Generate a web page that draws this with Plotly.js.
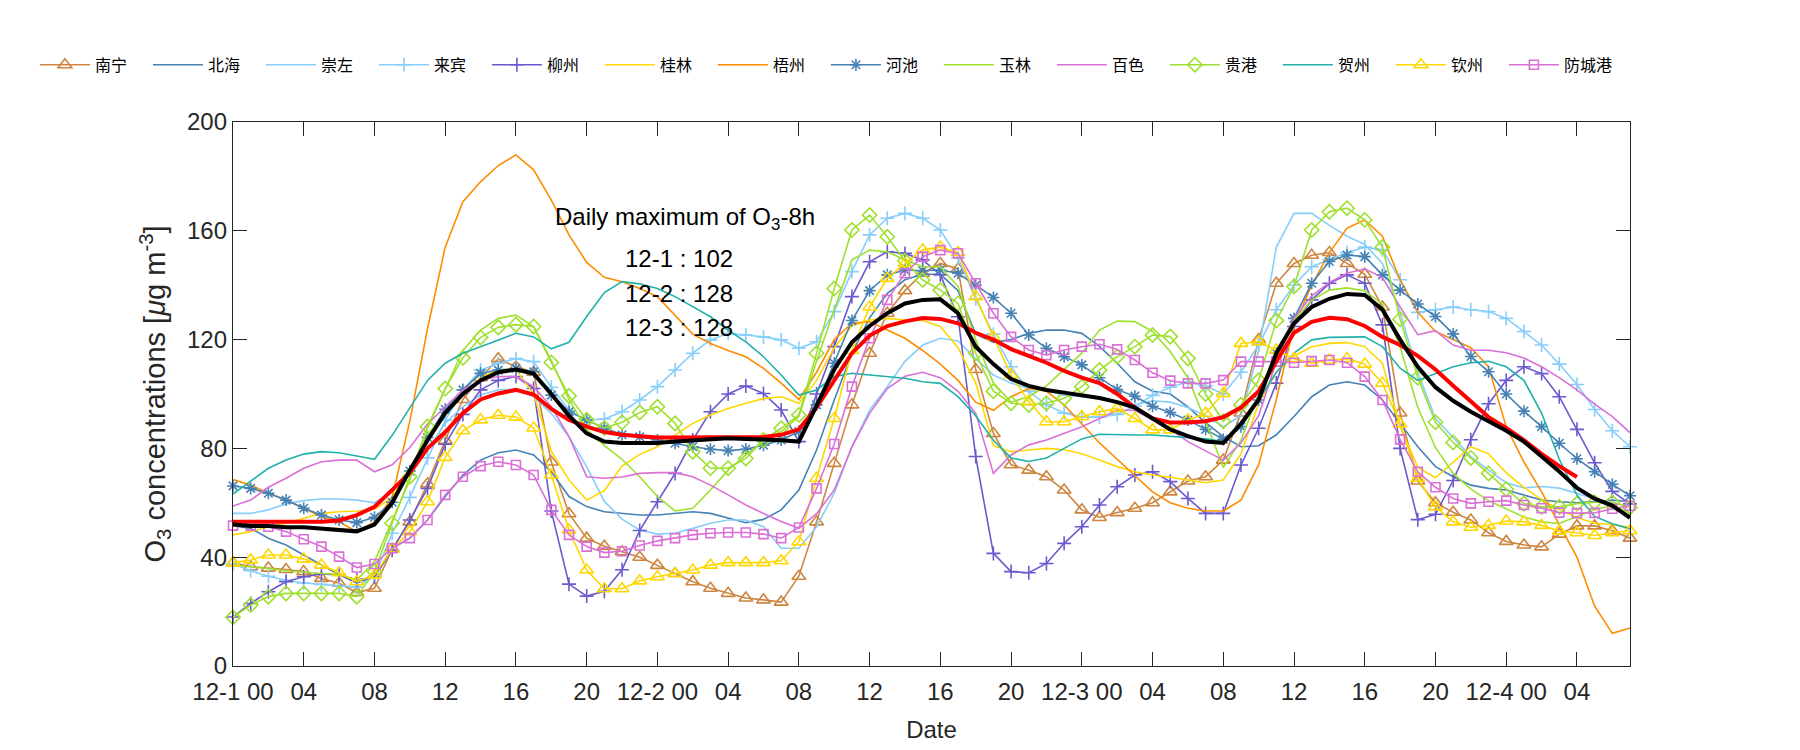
<!DOCTYPE html>
<html><head><meta charset="utf-8">
<script src="https://cdn.plot.ly/plotly-3.0.1.min.js"></script>
<style>html,body{margin:0;padding:0;background:#fff}#chart{width:1800px;height:750px}</style>
</head><body><div id="chart"></div>
<script>
// hour index since 12-1 00:00
const hours = [0,1,2,3,4,5,6,7,8,9,10,11,12,13,14,15,16,17,18,19,20,21,22,23,24,25,26,27,28,29,30,31,32,33,34,35,36,37,38,39,40,41,42,43,44,45,46,47,48,49,50,51,52,53,54,55,56,57,58,59,60,61,62,63,64,65,66,67,68,69,70,71,72,73,74,75,76,77,78,79];
const tickVals = [0,4,8,12,16,20,24,28,32,36,40,44,48,52,56,60,64,68,72,76];
const tickText = ['12-1 00','04','08','12','16','20','12-2 00','04','08','12','16','20','12-3 00','04','08','12','16','20','12-4 00','04'];
const yTicks = [0,40,80,120,160,200];

const cityNames = ['南宁','北海','崇左','来宾','柳州','桂林','梧州','河池','玉林','百色','贵港','贺州','钦州','防城港'];

const nanning = [38,36.5,36,35.5,34.7,32.2,30.4,27,28.6,43,53,67,83,98,106,113,110,108,75,56,47,44,42,40,37,34,31,28.6,26.7,25,24.3,23.5,33,53,74.5,96,115,129.7,138,144.4,148,146,109,85.5,74,72,69.6,64.7,57.4,54.6,56.4,58,60,64,68,69.6,75.7,93,120,140.7,148,151,152,148,144,132,93,68,60,56.5,53.7,49,45.8,44.5,43.8,48.5,51.5,51.5,49.7,47];
const beihai = [51.6,50.6,47,44.5,40.8,37.1,33.5,30.6,32.8,43.3,47,53.7,62.3,70.2,75.7,78.4,79.4,77.6,71.4,62.3,58.6,56.7,56,55.5,55.5,56.1,56.7,56.1,54.3,52.7,53.9,57.4,64.7,79.4,97.8,115,128,137,142,144,144,138,122,119,120,122.3,123.5,123.5,122.3,117.5,111.3,104.5,101,100,95.3,89.5,84.3,80.6,81,85,91.7,99,103.3,104.5,103.3,97.8,89.2,80.6,73.3,69.6,66.5,65.3,64.7,62.9,61,60.4,60,60.5,61,60.5];
const chongzuo = [56.1,56.1,57.4,59.6,60.8,61.4,61.4,61,60,64,71,79.4,89.2,95.3,99.6,101.5,101.7,99,92.9,84.3,73.3,60.5,54,50,48.5,48.8,50.6,52.5,53.7,53.7,51.2,43.3,43.3,51.2,63.5,80.6,94.1,102.7,112,118,120.5,119.5,113,107,104,102,101,99.6,99,98.3,97,96,97.5,97,95,92,88,92,116,154,166.4,166.4,162,158,155,148,130,108,91,84,77,72,67.4,65.5,66,65.4,63.5,61.5,58,55];
const laibin = [37.5,35,33,31.5,30.5,30,29.5,29,33,48.8,62,76.5,90.4,101.5,108.8,111.3,113,111.9,102.5,94,90.4,90.8,93.5,97.8,102.7,108.8,115,119.9,122.3,121.7,121,119.9,116.8,119.2,130.3,145,158.5,164.6,166.4,164.6,160.3,150,135,122,110,101,96,93,91.5,91.5,92.5,95.5,99.5,102.5,104.5,103,100,108,118,131,140,146.8,149.5,152,154,153,142,130,131,132,131,130.3,127.8,123,118,111,103.5,94.3,86.5,80.6];
const liuzhou = [18,23,27.3,31,32.8,33.8,33.5,31.6,32.8,42.6,53.7,65.3,81.5,92.5,101.5,105,106.4,102,57,30.1,25.7,27.5,35.4,49.8,60.4,70.8,83.1,93.5,100,102.9,100.2,94.1,82.5,100,117.4,135.8,148.6,152.3,151.7,149.3,143.8,128.4,77,41.4,34.7,34.3,37.7,45.1,51.2,59.2,65.9,70.2,71.4,67.8,61.6,56.1,56.1,73.9,87.4,104,124.8,134.6,140.7,143.8,140.7,125.4,80,53.8,55.8,68.2,83.2,96.4,105,110,107.5,99,87,74.7,64.2,59.6];
const guilin = [48.2,49.4,51.2,52.5,54.3,56.1,56.7,57,57.6,62,72,83,93,100,106,109,109,100,79,68.4,61,64.5,73.5,77.8,80.6,84.9,89.2,92.3,94.7,96.6,98.3,99,96.6,105,117,125,127.2,127.8,127.2,127,124.8,117,104,81,78.8,79.4,80,79.5,78,75.7,73.3,71.4,70.2,69.4,68.4,67.4,68.4,78,96.6,108,114,117.4,118.6,118.9,117.4,111.3,88,73,69.2,75,80.6,78,71,65.7,61.2,57.5,54.6,52.5,52,51];
const wuzhou = [68.6,66.5,63.5,61,58,55,53,49.4,53,62,90,124,154,170.7,178,184,187.9,182.4,171.3,158.5,148.4,142.9,141.3,138.8,135.8,129,122,118.6,116,113.7,109.4,104,98,108,120,126,126.6,123.5,120.5,116,111,105,97,94,99,102,101,96,89,82,76,70,64,60,58,57,57,61,74,98,125,140,152,161,164,158,142,130,123,120,117,110,88,75,64,52,40,22,12,14];
const hechi = [66.2,65.3,63.5,61,58,55.5,53.7,52.7,54.7,60.2,71.7,84,94.4,101.5,107.6,108.8,109.4,108.2,99.6,93.5,90.4,87.5,85,84.3,83.1,81.9,80.6,79.7,79.2,79.7,81.2,83.1,86.2,96,111.3,127,138,143.8,145.6,145.3,145.6,144.4,140,135.5,129.7,121.7,116.8,113.7,110.7,106,101.6,99.2,95.5,93.2,90.4,87,83.3,88,97.8,115,127.8,140.7,148.7,151.1,150.5,143.8,138.2,133.1,128.5,122.1,113.8,108.2,100,93.7,88,81.9,76.2,71.4,66.8,62.6];
const yulin = [37.1,36.5,35.9,35,34.4,34,33.7,31.6,38.4,53.7,68.4,87.4,102,116,123.5,127.8,129,124.8,112.3,98,87,81,76,69.6,62.3,57,58,64.7,72,77.6,82.5,86.2,91.7,112,131,149.3,152.9,152.3,149.3,146.8,146.8,139.5,120,104,97,99,103,109,115,123.5,126.8,126.6,123,115.6,106,90,73,83,100,116,127,134.5,138.2,139,138,133,117.4,95,80.3,70.8,65,60.8,57.7,54.8,53,52.4,55,57.5,58.9,56.3];
const baise = [58.8,61,65.7,69,72.7,75.1,75.7,75.7,71.4,74,80.3,89,95.3,101.5,105.1,106.4,106.4,102.7,95.3,84.3,69.6,69,69.5,70.8,71.1,71.1,69.6,66.5,62.9,59.2,56.1,53.1,50.6,56,64.7,80.6,92.9,102,106.5,108,106,101,92.9,70.8,77.6,81.3,83.1,85.5,88,91,94,94,90.4,87,82.5,79,75.7,82,92,112,128,136,141,144.4,146,142.8,132,121.8,123.3,118,116.1,116.1,115.2,113.2,110,106,101.5,96.3,91.7,85.8];
const guigang = [17.9,22.4,25.5,26.7,26.7,26.7,26.7,25.5,34.7,52.5,69.6,88,102,113.3,120.8,124.5,125.5,124.8,111.6,99.3,90.5,87.5,89.6,93.2,95.3,89.2,78.8,72.7,72.7,76.3,83.1,87.4,92.3,115,138.8,160.3,165.8,157.8,149,141.9,138.2,133.3,115,101,96.6,96,96.6,98.4,102.7,108.8,113.7,117.4,121.7,121.1,113.1,100,90,96,105,127,139.5,160.3,167,168.3,164,154,127.5,106,89.6,82.2,76.5,70.8,65,59.7,58.5,58.5,59.7,60.2,60.2,58.3];
const hezhou = [63.2,67.8,72.7,75.7,77.9,78.8,78.4,77.2,76,84.8,94.7,105,111.3,115,117.4,119.9,122.3,121,116.6,119,128.5,137.3,141.3,140.5,138.8,135.8,132,128.4,123.5,119.2,113.7,107,99.6,101.5,106.4,107.6,107,106.4,105.8,104.5,103.9,99,92,83,76.5,75.2,76.5,80,83.5,85.2,85,84.9,84.9,84.5,84,83.5,82.5,88,97.8,108,115,119.9,120.8,121,121,117.4,109.5,105,107.5,110,111.5,112,110,105,93,76,62.8,55,52.3,50.4];
const qinzhou = [38,39,40.8,40.8,39.3,37.1,34.3,31,33.5,43,49.4,60.4,76.7,86.5,90.5,92.2,91.5,87.5,70.2,50,35.3,28.4,28.4,31.3,32.8,34,35.3,37.1,38,38,38,38.7,45.7,69,91,116,132,142.5,148,153,154,152,135.8,121,107,97.2,89.8,89.8,91.7,93.5,94.7,91,86.8,86.8,90.4,92.9,100.2,118.6,119.2,116.2,113,111.3,112.5,113,111,104,89,69,58.5,53,51,51.7,53.3,53,51.7,49.6,49,48,49,49.7];
const fangchenggang = [51.6,51.6,51.2,49.4,46.6,43.9,40.2,36.2,37.5,43.3,47,53.7,62.9,69.6,73.5,75.1,73.9,70.2,57.4,48.2,43.9,41.7,42.2,44.3,46,47,48.2,48.8,49.1,49.1,48.5,47,50.9,65.3,81.6,102.7,120.5,134.6,144.4,150.5,152.9,151.7,140.7,129.7,121,116.2,114.3,116.2,117.4,118.3,116.4,112.5,107.8,104.9,103.9,103.9,105.1,111.9,111.9,111.9,111.5,112.1,112.5,111.5,106.4,97.8,83.3,71.4,65.7,61.6,59.8,60.4,60.8,59.2,58,56.4,56.2,56.3,57.8,58.9];
// regional mean (black) and the smoother red curve
const regionalMean = [52,51.5,51.5,51,51,50.5,50,49.5,52,60,72,83,93,100,105,108,109,107.5,100,92,85.5,82.5,82,82,82,82.5,83,83.5,83.7,83.5,83.3,83,82.5,96,109,119,125,129.7,133.3,134.6,134.8,129.7,117.4,111,105.5,103,101.5,100.5,99.5,98.5,97,95,91,87,84.5,82.5,82,89,98,115,126,132,135,136.8,136.4,131,120,110,102.5,97.5,93.5,90,86.5,82.5,77,71.5,65.5,61.5,59,54.5];
const redCurve = [53,53,52.8,52.7,52.7,53,53.5,55.5,58.5,64.5,71,80,86,93,98,100.2,101.5,99.8,94.5,90.5,88,86,85,84.5,84,84,84,84,84,84,84.2,85,87,95,105,115,121.5,125,126.7,127.9,127.6,126,122.5,120,116.5,114,111.5,108.5,106,104,100,95,91,89.5,89.5,90,91.5,95,101,112,122.5,126.5,128,127.5,125,121,118,114,109,103,97,91.5,87.5,83,78,73.5,69.5,null,null,null];

const dailyMaxLabel = 'Daily maximum of O<sub>3</sub>-8h';
const dailyMaxDays = ['12-1','12-2','12-3'];
const dailyMaxValues = [102,128,128];

const seriesValues = [nanning,beihai,chongzuo,laibin,liuzhou,guilin,wuzhou,hechi,yulin,baise,guigang,hezhou,qinzhou,fangchenggang];

// styles
const GREEN = '#9FE02F';
const styles = [
  {c:'#CD853F', s:'triangle-up-open', z:12},
  {c:'#4682B4', s:null},
  {c:'#87CEFA', s:null},
  {c:'#87CEFA', s:'cross-thin-open', z:10},
  {c:'#6A5ACD', s:'cross-thin-open', z:10},
  {c:'#FFD700', s:null},
  {c:'#FF8C00', s:null},
  {c:'#4682B4', s:'asterisk-open', z:10},
  {c:GREEN, s:null},
  {c:'#DA70D6', s:null},
  {c:GREEN, s:'diamond-open', z:11},
  {c:'#20B2AA', s:null},
  {c:'#FFD700', s:'triangle-up-open', z:12},
  {c:'#DA70D6', s:'square-open', z:9}
];

const traces = seriesValues.map((vals, i) => {
  const st = styles[i];
  const t = {
    type:'scatter', x:hours, y:vals, name:cityNames[i],
    mode: st.s ? 'lines+markers' : 'lines',
    line:{color:st.c, width:1.6},
    cliponaxis:false, hoverinfo:'skip'
  };
  if (st.s) t.marker = {symbol:st.s, size:st.z, color:st.c, line:{color:st.c, width:1.6}};
  return t;
});
traces.push({type:'scatter', x:hours, y:redCurve, mode:'lines', line:{color:'#FF0000', width:4}, showlegend:false, hoverinfo:'skip', cliponaxis:false});
traces.push({type:'scatter', x:hours, y:regionalMean, mode:'lines', line:{color:'#000000', width:4}, showlegend:false, hoverinfo:'skip', cliponaxis:false});

const AX = '#262626';
const FONT = 'Liberation Sans, Arial, sans-serif';
const annotations = [{
  xref:'x', yref:'y', x:18.1, y:164.7, xanchor:'left', yanchor:'middle', showarrow:false,
  text:dailyMaxLabel, font:{family:FONT, size:24, color:'#000'}
}];
dailyMaxDays.forEach((d, i) => {
  annotations.push({xref:'x', yref:'y', x:22.05, y:[150,137.1,124.6][i], xanchor:'left', yanchor:'middle', showarrow:false,
    text: d + ' : ' + dailyMaxValues[i], font:{family:FONT, size:24, color:'#000'}});
});

const layout = {
  width:1800, height:750,
  paper_bgcolor:'#fff', plot_bgcolor:'#fff',
  margin:{l:233, r:170, t:122, b:84},
  font:{family:FONT, size:24, color:AX},
  showlegend:true,
  legend:{orientation:'h', x:-0.1418, xanchor:'left', y:1.105, yanchor:'middle',
    font:{family:'Noto Sans CJK SC, sans-serif', size:16, color:'#000'},
    itemwidth:50, entrywidth:48, bgcolor:'rgba(0,0,0,0)', traceorder:'normal'},
  xaxis:{range:[0,79], tickmode:'array', tickvals:tickVals, ticktext:tickText,
    ticks:'inside', ticklen:14, tickwidth:1, tickcolor:AX, ticklabelstandoff:4,
    showline:true, linecolor:AX, linewidth:1.2, mirror:'ticks',
    showgrid:false, zeroline:false, tickfont:{size:24, color:AX},
    title:{text:'Date', font:{size:24, color:AX}, standoff:17}},
  yaxis:{range:[0,200], tickmode:'array', tickvals:yTicks,
    ticks:'inside', ticklen:14, tickwidth:1, tickcolor:AX,
    showline:true, linecolor:AX, linewidth:1.2, mirror:'ticks',
    showgrid:false, zeroline:false, tickfont:{size:24, color:AX},
    title:{text:'O<sub>3</sub> concentrations [<i>μ</i>g m<sup>-3</sup>]', font:{size:29, color:AX}, standoff:12}},
  annotations:annotations
};

Plotly.newPlot('chart', traces, layout, {staticPlot:true, displayModeBar:false});
</script>
</body></html>
